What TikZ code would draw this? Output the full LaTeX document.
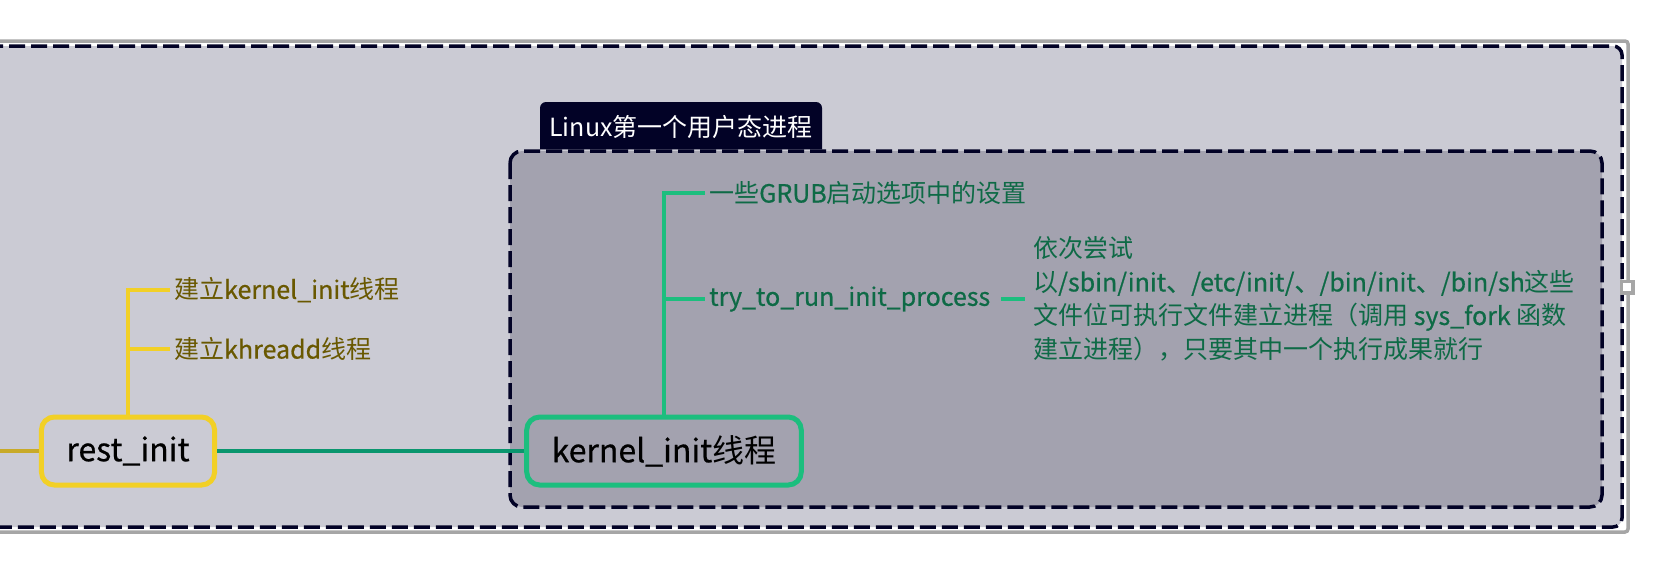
\documentclass[tikz,border=0pt]{standalone}
\usepackage{fontspec}
\setmainfont{Noto Sans CJK SC}
\newfontfamily\latin{Noto Sans CJK SC}[FakeBold=0.6]
\usepackage{tikz}
\usetikzlibrary{positioning}
\definecolor{bgouter}{RGB}{203,203,212}
\definecolor{bginner}{RGB}{163,162,175}
\definecolor{navy}{RGB}{2,2,38}
\definecolor{framegray}{RGB}{166,166,166}
\definecolor{ryellow}{RGB}{242,208,38}
\definecolor{rgold}{RGB}{200,170,40}
\definecolor{kgreen}{RGB}{28,190,126}
\definecolor{tgreen}{RGB}{10,150,110}
\definecolor{ktext}{RGB}{14,106,70}
\definecolor{rtext}{RGB}{105,88,0}
\tikzset{%
	mainbox/.style = {draw, rectangle, rounded corners=13pt, line width=5pt, minimum height=68pt, inner xsep=25pt, text centered, font=\fontsize{32}{38}\selectfont},
	leaf/.style    = {anchor=west, inner sep=4pt, font=\fontsize{25}{30}\selectfont},
	branch/.style  = {line width=3.5pt},
	dashbox/.style = {draw=navy, line width=3.5pt, dash pattern=on 16pt off 6pt},
}

\begin{document}
\begin{tikzpicture}[x=1pt,y=-1pt]
	\useasboundingbox (0,0) rectangle (1662,581);
	% outer group
	\draw[framegray, line width=3.5pt, fill=white, rounded corners=3pt] (-20,41) rectangle (1628,532);
	\draw[dashbox, fill=bgouter, rounded corners=9pt, preaction={draw=white, solid, line width=3.5pt}] (-20,46) rectangle (1622,527);
	\node[draw=framegray, fill=white, line width=3.5pt, minimum size=11.5pt, inner sep=0pt] (handle) at (1627,287) {};
	
	% inner group with its tab
	\fill[navy, rounded corners=6pt] (540,165) -- (540,102) -- (822,102) -- (822,165) -- cycle;
	\node[white, font=\fontsize{25}{30}\selectfont] (tab) at (681,127) {Linux第一个用户态进程};
	\draw[dashbox, fill=bginner, rounded corners=12pt, preaction={draw=bgouter, solid, line width=3.5pt}] (510,151) rectangle (1602,507);
	
	\node[mainbox, draw=ryellow] (rest) at (128,451) {{\latin rest\_init}};
	\node[mainbox, draw=kgreen] (kinit) at (664,451) {{\latin kernel\_init}线程};
	
	\node[leaf, rtext] (mkinit) at (170,290) {建立{\latin kernel\_init}线程};
	\node[leaf, rtext] (mkthread) at (170,349) {建立{\latin khreadd}线程};
	\node[leaf, ktext] (grub) at (705,193) {一些{\latin GRUB}启动选项中的设置};
	\node[leaf, ktext] (tryrun) at (705,299) {{\latin try\_to\_run\_init\_process}};
	\node[leaf, ktext, align=left, font=\fontsize{25}{33.5}\selectfont] (tries) at (1029,299) {依次尝试\\以{\latin /sbin/init、/etc/init/、/bin/init、/bin/sh}这些\\文件位可执行文件建立进程（调用 {\latin sys\_fork} 函数\\建立进程），只要其中一个执行成果就行};
	
	\draw[branch, ryellow] (rest.north) |- (mkinit.west);
	\draw[branch, ryellow] (rest.north) |- (mkthread.west);
	\draw[branch, kgreen] (kinit.north) |- (grub.west);
	\draw[branch, kgreen] (kinit.north) |- (tryrun.west);
	\draw[branch, kgreen, shorten <=7pt, shorten >=4pt] (tryrun.east) -- (tries.west);
	
	\coordinate (enter) at (-10,451);
	\draw[line width=4pt, rgold] (enter) -- (rest.west);
	\draw[line width=4pt, tgreen] (rest.east) -- (kinit.west);
\end{tikzpicture}
\end{document}
